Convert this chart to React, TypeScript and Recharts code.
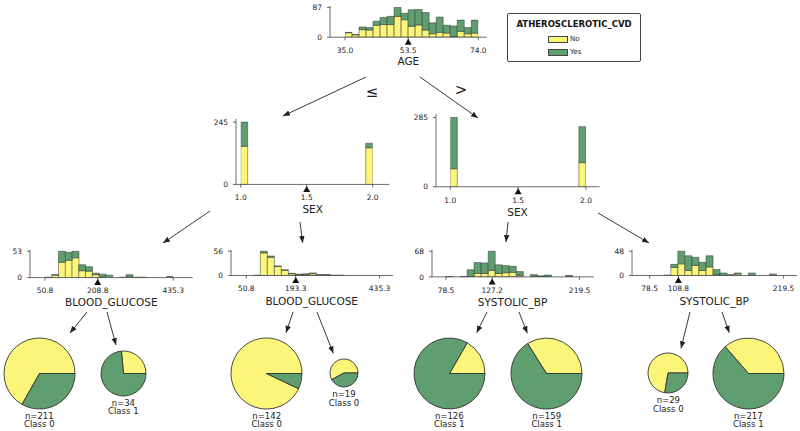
import React from 'react';
import { Bar, Cell, ComposedChart, Pie, PieChart, ReferenceDot, XAxis, YAxis } from 'recharts';

const YELLOW = '#fbf67a';
const GREEN = '#5f9e6f';
const GREY = '#444443';
const FONT = '"DejaVu Sans", Verdana, sans-serif';

const classNames = ['No', 'Yes'];

// root: AGE
const ageRange = [35.0, 74.0];
const ageSplit = 53.5;
const ageNo = [13, 7, 22, 21, 35, 37, 37, 61, 51, 32, 36, 21, 10, 14, 12, 2, 17, 10, 12];
const ageYes = [1, 1, 8, 7, 12, 21, 24, 26, 19, 48, 45, 51, 32, 45, 23, 31, 33, 18, 38];

// level 1: SEX
const sexRange = [1.0, 2.0];
const sexSplit = 1.5;
const sexLeftNo = [150, 0, 0, 0, 0, 0, 0, 0, 0, 0, 0, 0, 0, 0, 0, 0, 0, 0, 144];
const sexLeftYes = [95, 0, 0, 0, 0, 0, 0, 0, 0, 0, 0, 0, 0, 0, 0, 0, 0, 0, 18];
const sexRightNo = [74, 0, 0, 0, 0, 0, 0, 0, 0, 0, 0, 0, 0, 0, 0, 0, 0, 0, 99];
const sexRightYes = [211, 0, 0, 0, 0, 0, 0, 0, 0, 0, 0, 0, 0, 0, 0, 0, 0, 0, 148];

// level 2: BLOOD_GLUCOSE
const bgRange = [50.8, 435.3];
const bgSplitA = 208.8;
const bgSplitB = 193.3;
const bgANo = [1, 5, 31, 35, 40, 14, 13, 6, 1, 0, 0, 0, 2, 0, 0, 0, 0, 0, 1];
const bgAYes = [0, 1, 22, 16, 13, 12, 9, 3, 6, 5, 0, 1, 4, 1, 1, 0, 0, 0, 1];
const bgBNo = [0, 1, 52, 42, 21, 12, 4, 2, 2, 4, 1, 1, 0, 1, 0, 0, 0, 0, 0];
const bgBYes = [0, 0, 4, 3, 1, 1, 1, 1, 2, 2, 1, 1, 1, 0, 0, 0, 0, 0, 0];

// level 2: SYSTOLIC_BP
const bpRange = [78.5, 219.5];
const bpSplitA = 127.2;
const bpSplitB = 108.8;
const bpANo = [0, 0, 0, 1, 9, 9, 17, 9, 11, 12, 4, 0, 0, 0, 0, 0, 0, 0, 0];
const bpAYes = [1, 0, 1, 18, 29, 28, 51, 23, 19, 16, 10, 0, 6, 3, 5, 0, 0, 4, 0];
const bpBNo = [0, 0, 1, 16, 23, 10, 20, 10, 17, 2, 0, 0, 3, 0, 0, 0, 0, 0, 0];
const bpBYes = [0, 0, 0, 6, 25, 29, 16, 16, 22, 10, 5, 2, 2, 0, 5, 0, 0, 3, 0];

// leaves
const leafNo = [141, 9, 132, 11, 21, 54, 21, 79];
const leafYes = [70, 25, 10, 8, 105, 105, 8, 138];

const tri = (p: any) => {
  const { cx, cy } = p;
  return <polygon points={`${cx},${cy + 1.5} ${cx - 3.5},${cy + 7.5} ${cx + 3.5},${cy + 7.5}`} fill="#111" />;
};

const tickStyle = { fontSize: 7.5, fill: '#222', fontFamily: FONT };

type HistProps = {
  spineX: number; endX: number; baseline: number; tickY: number; minX: number; maxX: number;
  no: number[]; yes: number[]; range: number[]; split: number; label: string;
};

const Hist = ({ spineX, endX, baseline, tickY, minX, maxX, no, yes, range, split, label }: HistProps) => {
  const step = (range[1] - range[0]) / no.length;
  const data = no.map((v, i) => ({ mid: range[0] + (i + 0.5) * step, no: v, yes: yes[i] }));
  const yMax = Math.max(...data.map((d) => d.no + d.yes));
  const plotW = endX - spineX;
  const plotH = (baseline - tickY) * 1.05;
  const YW = 28;
  const XH = 30;
  const top = 2;
  const pad = { left: minX - spineX, right: endX - maxX };
  return (
    <>
      <div style={{ position: 'absolute', left: spineX - YW, top: baseline - plotH - top }}>
        <ComposedChart
          width={YW + plotW + 2}
          height={top + plotH + XH}
          data={data}
          margin={{ top, right: 2, bottom: 0, left: 0 }}
          barCategoryGap={0}
          barGap={0}
        >
          <XAxis
            dataKey="mid"
            type="number"
            domain={[range[0], range[1]]}
            allowDataOverflow
            ticks={[range[0], split, range[1]]}
            tickFormatter={(v: number) => v.toFixed(1)}
            padding={pad}
            height={XH}
            tick={tickStyle}
            tickSize={3}
            tickMargin={7.5}
            stroke={GREY}
            strokeWidth={0.8}
            interval={0}
          />
          <YAxis
            domain={[0, yMax * 1.05]}
            allowDataOverflow
            ticks={[0, yMax]}
            width={YW}
            tick={tickStyle}
            tickSize={3}
            tickMargin={5}
            stroke={GREY}
            strokeWidth={0.8}
            interval={0}
          />
          <Bar dataKey="no" name={classNames[0]} stackId="s" fill={YELLOW} stroke="#333" strokeWidth={0.5} isAnimationActive={false} />
          <Bar dataKey="yes" name={classNames[1]} stackId="s" fill={GREEN} stroke="#333" strokeWidth={0.5} isAnimationActive={false} />
          <ReferenceDot x={split} y={0} ifOverflow="visible" shape={tri} />
        </ComposedChart>
      </div>
      <div
        style={{
          position: 'absolute', left: (spineX + endX) / 2 - 80, width: 160, top: baseline + 24.5 - 7,
          height: 14, lineHeight: '14px', textAlign: 'center', fontSize: 10.5, color: '#222', fontFamily: FONT,
        }}
      >
        {label}
      </div>
    </>
  );
};

const PIE_CY = 373.3;
const leafX = [39.3, 123.3, 266.7, 344, 449.3, 546.7, 668.3, 748.3];
const leafR = [35.5, 22.5, 35.5, 14, 35.5, 35.5, 20, 35.5];

const Leaf = ({ i }: { i: number }) => {
  const r = leafR[i];
  const size = Math.ceil(2 * r + 4);
  const n = leafNo[i] + leafYes[i];
  const cls = leafYes[i] > leafNo[i] ? 1 : 0;
  const data = [
    { name: classNames[0], value: leafNo[i] },
    { name: classNames[1], value: leafYes[i] },
  ];
  const txt = {
    position: 'absolute' as const, left: leafX[i] - 30, width: 60, textAlign: 'center' as const,
    fontSize: 8.5, lineHeight: '9px', color: '#222', fontFamily: FONT,
  };
  return (
    <>
      <div style={{ position: 'absolute', left: leafX[i] - size / 2, top: PIE_CY - size / 2 }}>
        <PieChart width={size} height={size} margin={{ top: 0, right: 0, bottom: 0, left: 0 }}>
          <Pie
            data={data}
            dataKey="value"
            cx="50%"
            cy="50%"
            outerRadius={r}
            startAngle={0}
            endAngle={360}
            stroke="#333"
            strokeWidth={0.9}
            isAnimationActive={false}
          >
            <Cell fill={YELLOW} />
            <Cell fill={GREEN} />
          </Pie>
        </PieChart>
      </div>
      <div style={{ ...txt, top: PIE_CY + r + 7.5 - 4.5 }}>n={n}</div>
      <div style={{ ...txt, top: PIE_CY + r + 16 - 4.5 }}>Class {cls}</div>
    </>
  );
};

const arrows = [
  [366, 77, 283, 116],
  [420, 77, 478, 118],
  [210, 211, 163, 243],
  [300, 222, 302.7, 243],
  [508, 222, 506, 242],
  [598, 213, 649, 243],
  [87, 312, 70, 333],
  [107, 312, 116, 345],
  [293, 312, 286, 332.7],
  [317, 312, 333.3, 353.3],
  [487, 312, 476.7, 332.7],
  [519, 312, 527.3, 333.3],
  [690, 312, 681, 348.3],
  [722, 312, 729.3, 332.7],
];

const App = () => {
  return (
    <div style={{ position: 'absolute', left: 0, top: 0, width: 800, height: 431, background: '#fff', fontFamily: FONT }}>
      <Hist spineX={330} endX={486.7} baseline={36.7} tickY={7} minX={345} maxX={478.3} no={ageNo} yes={ageYes} range={ageRange} split={ageSplit} label="AGE" />
      <Hist spineX={236} endX={389.3} baseline={184} tickY={121.7} minX={240.7} maxX={372.7} no={sexLeftNo} yes={sexLeftYes} range={sexRange} split={sexSplit} label="SEX" />
      <Hist spineX={435.7} endX={599.3} baseline={187} tickY={117.7} minX={450} maxX={585.7} no={sexRightNo} yes={sexRightYes} range={sexRange} split={sexSplit} label="SEX" />
      <Hist spineX={30} endX={192.7} baseline={277.3} tickY={251} minX={45} maxX={173.3} no={bgANo} yes={bgAYes} range={bgRange} split={bgSplitA} label="BLOOD_GLUCOSE" />
      <Hist spineX={230.7} endX={392.7} baseline={276} tickY={251.7} minX={246} maxX={379.3} no={bgBNo} yes={bgBYes} range={bgRange} split={bgSplitB} label="BLOOD_GLUCOSE" />
      <Hist spineX={431.7} endX={593.3} baseline={277.3} tickY={251.7} minX={445.7} maxX={579.3} no={bpANo} yes={bpAYes} range={bpRange} split={bpSplitA} label="SYSTOLIC_BP" />
      <Hist spineX={631.7} endX={796.7} baseline={276} tickY={251.7} minX={649.3} maxX={783.3} no={bpBNo} yes={bpBYes} range={bpRange} split={bpSplitB} label="SYSTOLIC_BP" />

      {leafNo.map((_, i) => (
        <Leaf key={i} i={i} />
      ))}

      <svg width={800} height={431} style={{ position: 'absolute', left: 0, top: 0, pointerEvents: 'none' }}>
        <defs>
          <marker id="ah" viewBox="0 0 10 10" refX="10" refY="5" markerWidth="7" markerHeight="7" orient="auto" markerUnits="userSpaceOnUse">
            <path d="M0,1 L10,5 L0,9 z" fill="#222" />
          </marker>
        </defs>
        {arrows.map(([x1, y1, x2, y2], i) => (
          <line key={i} x1={x1} y1={y1} x2={x2} y2={y2} stroke="#222" strokeWidth={0.9} markerEnd="url(#ah)" />
        ))}
        <text x={372} y={92} fontSize={15} textAnchor="middle" dominantBaseline="middle" fill="#222" fontFamily={FONT}>≤</text>
        <text x={461} y={90} fontSize={15} textAnchor="middle" dominantBaseline="middle" fill="#222" fontFamily={FONT}>&gt;</text>
      </svg>

      <div
        style={{
          position: 'absolute', left: 507, top: 13, width: 134, height: 49, boxSizing: 'border-box',
          border: `1px solid ${GREY}`, borderRadius: 2, background: '#fff',
        }}
      >
        <div style={{ position: 'absolute', left: 0, right: 0, top: 5, textAlign: 'center', fontSize: 8.5, fontWeight: 'bold', color: '#111', fontFamily: FONT }}>
          ATHEROSCLEROTIC_CVD
        </div>
        {classNames.map((c, i) => (
          <div key={c} style={{ position: 'absolute', left: 40, top: 21 + i * 13.3, height: 8, display: 'flex', alignItems: 'center' }}>
            <span style={{ display: 'inline-block', width: 18, height: 5, background: i === 0 ? YELLOW : GREEN, border: `0.5px solid ${GREY}` }} />
            <span style={{ marginLeft: 2, fontSize: 7, color: '#222', fontFamily: FONT }}>{c}</span>
          </div>
        ))}
      </div>
    </div>
  );
};

export default App;
